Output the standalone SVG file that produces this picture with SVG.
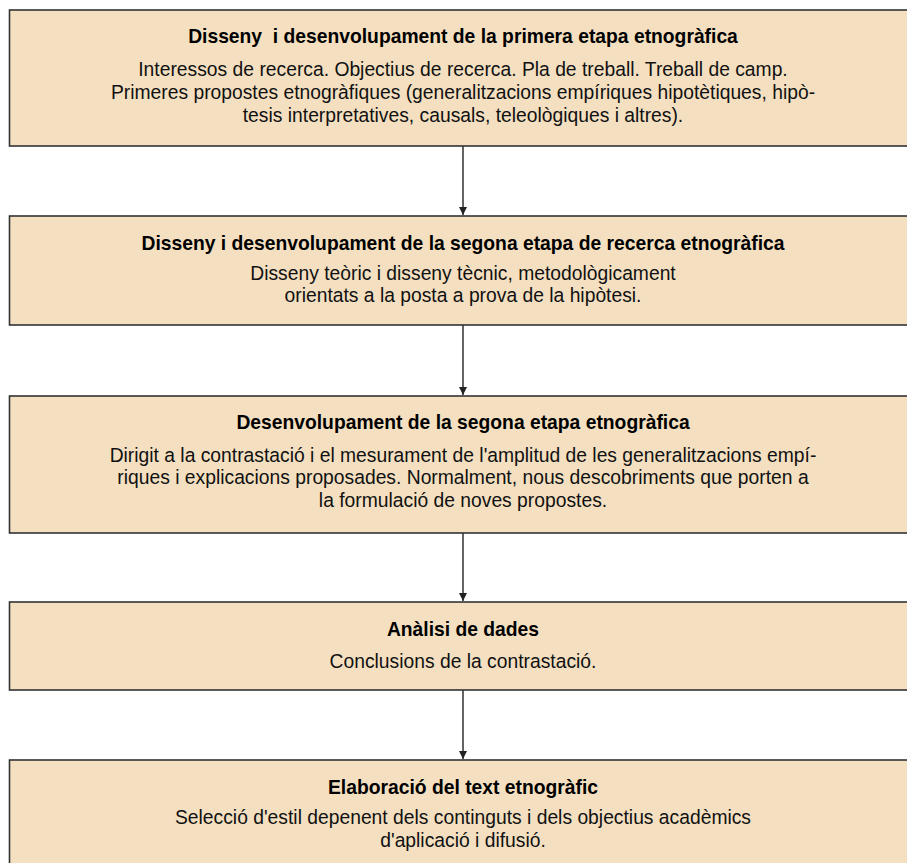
<svg xmlns="http://www.w3.org/2000/svg" width="907" height="863" viewBox="0 0 907 863">
<defs>
<style>
.box{fill:#F4E0C1;stroke:#333333;stroke-width:1.6}
.t{font-family:"Liberation Sans",Arial,sans-serif;font-size:19.3px;font-weight:bold;fill:#000;text-anchor:middle}
.b{font-family:"Liberation Sans",Arial,sans-serif;font-size:19.3px;fill:#111;text-anchor:middle}
.c{stroke:#222;stroke-width:1.4;fill:none}
</style>
<marker id="ah" markerWidth="10" markerHeight="10" refX="9" refY="5" orient="auto" markerUnits="userSpaceOnUse">
<path d="M1,1 L9,5 L1,9 Z" fill="#222"/>
</marker>
</defs>
<rect width="907" height="863" fill="#fff"/>
<g id="connectors">
<line class="c" x1="463" y1="146" x2="463" y2="215" marker-end="url(#ah)"/>
<line class="c" x1="463" y1="325" x2="463" y2="395" marker-end="url(#ah)"/>
<line class="c" x1="463" y1="533" x2="463" y2="601" marker-end="url(#ah)"/>
<line class="c" x1="463" y1="690" x2="463" y2="759" marker-end="url(#ah)"/>
</g>
<g id="node1">
<rect class="box" x="9.5" y="10" width="908" height="136"/>
<text class="t" x="463" y="43" xml:space="preserve">Disseny  i desenvolupament de la primera etapa etnogràfica</text>
<text class="b" x="463" y="76">Interessos de recerca. Objectius de recerca. Pla de treball. Treball de camp.</text>
<text class="b" x="463" y="99">Primeres propostes etnogràfiques (generalitzacions empíriques hipotètiques, hipò-</text>
<text class="b" x="463" y="122">tesis interpretatives, causals, teleològiques i altres).</text>
</g>
<g id="node2">
<rect class="box" x="9.5" y="216" width="908" height="109"/>
<text class="t" x="463" y="250">Disseny i desenvolupament de la segona etapa de recerca etnogràfica</text>
<text class="b" x="463" y="279.5">Disseny teòric i disseny tècnic, metodològicament</text>
<text class="b" x="463" y="301.5">orientats a la posta a prova de la hipòtesi.</text>
</g>
<g id="node3">
<rect class="box" x="9.5" y="396" width="908" height="137"/>
<text class="t" x="463" y="429">Desenvolupament de la segona etapa etnogràfica</text>
<text class="b" x="463" y="461.5">Dirigit a la contrastació i el mesurament de l'amplitud de les generalitzacions empí-</text>
<text class="b" x="463" y="484">riques i explicacions proposades. Normalment, nous descobriments que porten a</text>
<text class="b" x="463" y="506.5">la formulació de noves propostes.</text>
</g>
<g id="node4">
<rect class="box" x="9.5" y="602" width="908" height="88"/>
<text class="t" x="463" y="636">Anàlisi de dades</text>
<text class="b" x="463" y="667.5">Conclusions de la contrastació.</text>
</g>
<g id="node5">
<rect class="box" x="9.5" y="760" width="908" height="110"/>
<text class="t" x="463" y="794">Elaboració del text etnogràfic</text>
<text class="b" x="463" y="824">Selecció d'estil depenent dels continguts i dels objectius acadèmics</text>
<text class="b" x="463" y="846.5">d'aplicació i difusió.</text>
</g>
</svg>
